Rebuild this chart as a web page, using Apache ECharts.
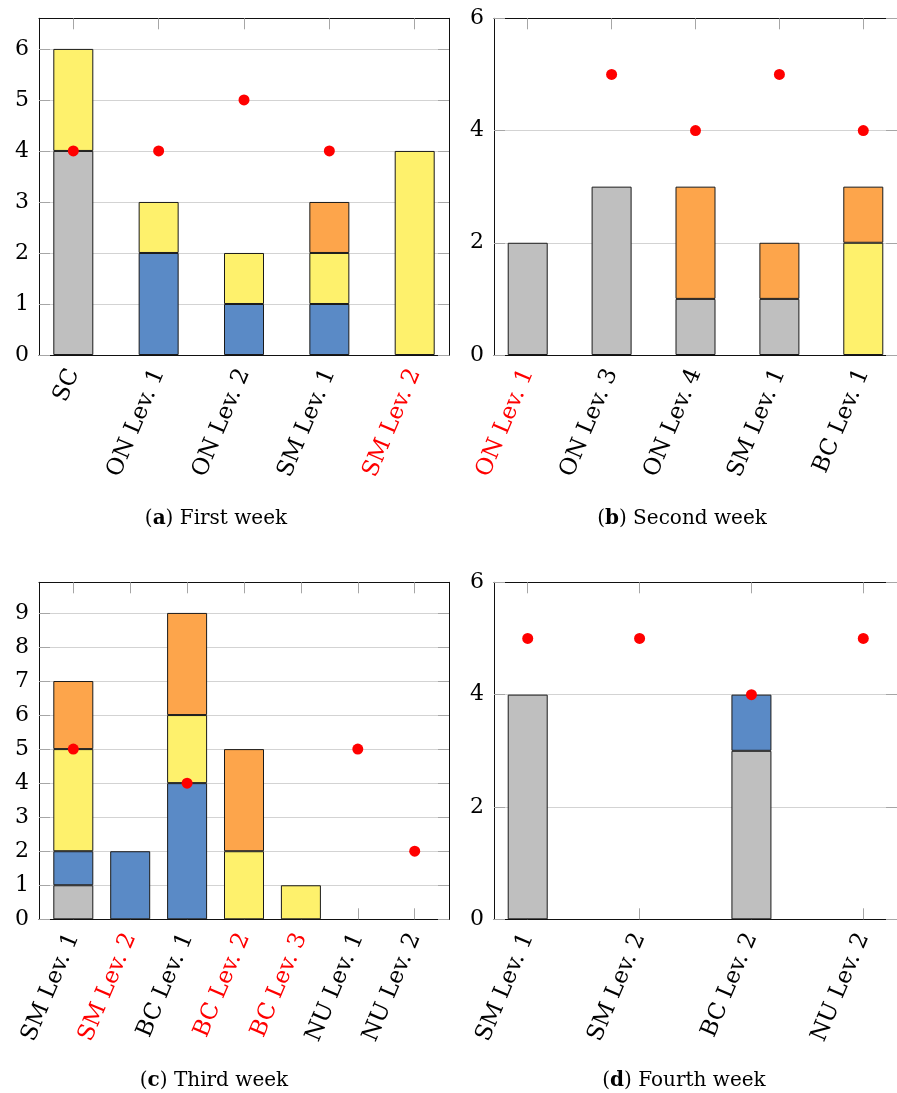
<!DOCTYPE html>
<html><head><meta charset="utf-8">
<script src="https://cdn.jsdelivr.net/npm/echarts@6/dist/echarts.min.js"></script>
<style>html,body{margin:0;padding:0;background:#fff}#c{width:897px;height:1093px}</style>
</head><body><div id="c"></div>
<script>
// ---- (a) First week ----
const catsA = ['SC', 'ON Lev. 1', 'ON Lev. 2', 'SM Lev. 1', 'SM Lev. 2'];
const redA = [false, false, false, false, true];
const greyA = [4, 0, 0, 0, 0];
const blueA = [0, 2, 1, 1, 0];
const yellowA = [2, 1, 1, 1, 4];
const orangeA = [0, 0, 0, 1, 0];
const dotsA = [4, 4, 5, 4, null];
const yTicksA = [0, 1, 2, 3, 4, 5, 6];

// ---- (b) Second week ----
const catsB = ['ON Lev. 1', 'ON Lev. 3', 'ON Lev. 4', 'SM Lev. 1', 'BC Lev. 1'];
const redB = [true, false, false, false, false];
const greyB = [2, 3, 1, 1, 0];
const blueB = [0, 0, 0, 0, 0];
const yellowB = [0, 0, 0, 0, 2];
const orangeB = [0, 0, 2, 1, 1];
const dotsB = [null, 5, 4, 5, 4];
const yTicksB = [0, 2, 4, 6];

// ---- (c) Third week ----
const catsC = ['SM Lev. 1', 'SM Lev. 2', 'BC Lev. 1', 'BC Lev. 2', 'BC Lev. 3', 'NU Lev. 1', 'NU Lev. 2'];
const redC = [false, true, false, true, true, false, false];
const greyC = [1, 0, 0, 0, 0, 0, 0];
const blueC = [1, 2, 4, 0, 0, 0, 0];
const yellowC = [3, 0, 2, 2, 1, 0, 0];
const orangeC = [2, 0, 3, 3, 0, 0, 0];
const dotsC = [5, null, 4, null, null, 5, 2];
const yTicksC = [0, 1, 2, 3, 4, 5, 6, 7, 8, 9];

// ---- (d) Fourth week ----
const catsD = ['SM Lev. 1', 'SM Lev. 2', 'BC Lev. 2', 'NU Lev. 2'];
const redD = [false, false, false, false];
const greyD = [4, 0, 3, 0];
const blueD = [0, 0, 1, 0];
const yellowD = [0, 0, 0, 0];
const orangeD = [0, 0, 0, 0];
const dotsD = [5, 5, 4, 5];
const yTicksD = [0, 2, 4, 6];

const captions = [['a', 'First week'], ['b', 'Second week'], ['c', 'Third week'], ['d', 'Fourth week']];

// ---- styling / layout ----
const FONT = 'DejaVu Serif';
const COLORS = { grey: '#bfbfbf', blue: '#5a8ac6', yellow: '#fef16c', orange: '#fda54b' };
const PLOT_W = 410, PAD = 34.3;

const panels = [
  { cats: catsA, red: redA, layers: [greyA, blueA, yellowA, orangeA], dots: dotsA, yTicks: yTicksA, ymax: 6.6, interval: 1,
    grid: { left: 39, top: 18.3, h: 336.7 }, cap: { x: 216, y: 519 } },
  { cats: catsB, red: redB, layers: [greyB, blueB, yellowB, orangeB], dots: dotsB, yTicks: yTicksB, ymax: 6, interval: 2,
    grid: { left: 494, top: 18.3, h: 336.7 }, cap: { x: 682, y: 519 } },
  { cats: catsC, red: redC, layers: [greyC, blueC, yellowC, orangeC], dots: dotsC, yTicks: yTicksC, ymax: 9.9, interval: 1,
    grid: { left: 39, top: 582.3, h: 337 }, cap: { x: 214, y: 1081 } },
  { cats: catsD, red: redD, layers: [greyD, blueD, yellowD, orangeD], dots: dotsD, yTicks: yTicksD, ymax: 6, interval: 2,
    grid: { left: 494, top: 582.3, h: 337 }, cap: { x: 684, y: 1081 } }
];
const layerColors = [COLORS.grey, COLORS.blue, COLORS.yellow, COLORS.orange];

const grids = [], xAxes = [], yAxes = [], series = [], graphics = [];
const tickStyle = { show: true, inside: true, length: 11, lineStyle: { color: '#a6a6a6', width: 1 } };
const lineStyle = { show: true, onZero: false, lineStyle: { color: '#111', width: 1 } };

panels.forEach((p, k) => {
  const n = p.cats.length;
  const sp = (PLOT_W - 2 * PAD) / (n - 1);
  const pad = PAD / sp;
  grids.push({ left: p.grid.left, top: p.grid.top, width: PLOT_W, height: p.grid.h, containLabel: false });
  const idx = p.cats.map((_, i) => i);
  const xBase = { type: 'value', gridIndex: k, min: -pad, max: n - 1 + pad, splitLine: { show: false },
    axisLine: lineStyle, axisTick: Object.assign({}, tickStyle, { customValues: idx }) };
  xAxes.push(Object.assign({}, xBase, { position: 'bottom',
    axisLabel: { customValues: idx, rotate: 67, margin: 15, fontFamily: FONT, fontSize: 23,
      formatter: v => p.cats[Math.round(v)],
      color: v => p.red[Math.round(Number(v))] ? '#ff0000' : '#000' } }));
  xAxes.push(Object.assign({}, xBase, { position: 'top', axisLabel: { show: false } }));
  const yBase = { type: 'value', gridIndex: k, min: 0, max: p.ymax, interval: p.interval,
    axisLine: lineStyle, axisTick: Object.assign({}, tickStyle, { customValues: p.yTicks }) };
  yAxes.push(Object.assign({}, yBase, { position: 'left',
    splitLine: { show: true, lineStyle: { color: '#d3d3d3', width: 1 } },
    axisLabel: { customValues: p.yTicks, margin: 10, fontFamily: FONT, fontSize: 22, color: '#000' } }));
  yAxes.push(Object.assign({}, yBase, { position: 'right', splitLine: { show: false }, axisLabel: { show: false } }));

  p.layers.forEach((vals, li) => {
    // value first so that the stacked dimension is the y value
    series.push({ type: 'bar', xAxisIndex: 2 * k, yAxisIndex: 2 * k, stack: 's' + k, barWidth: 40,
      encode: { x: 1, y: 0 },
      data: vals.map((v, i) => [v ? v : '-', i]),
      itemStyle: { color: layerColors[li], borderColor: '#1a1a1a', borderWidth: 1 },
      emphasis: { disabled: true }, z: 2 });
  });
  series.push({ type: 'scatter', xAxisIndex: 2 * k, yAxisIndex: 2 * k, symbol: 'circle', symbolSize: 11,
    data: p.dots.map((v, i) => v == null ? null : [i, v]).filter(d => d),
    itemStyle: { color: '#ff0000', opacity: 1 }, z: 5 });

  graphics.push({ type: 'text', x: p.cap.x, y: p.cap.y,
    style: { text: '{p|(}{b|' + captions[k][0] + '}{p|) ' + captions[k][1] + '}',
      align: 'center', verticalAlign: 'middle',
      rich: { p: { fontFamily: FONT, fontSize: 20, fill: '#000' },
              b: { fontFamily: FONT, fontSize: 20, fontWeight: 'bold', fill: '#000' } } } });
});

const chart = echarts.init(document.getElementById('c'), null, { renderer: 'canvas' });
chart.setOption({ animation: false, backgroundColor: '#fff', grid: grids, xAxis: xAxes, yAxis: yAxes,
  series: series, graphic: graphics });
</script></body></html>
